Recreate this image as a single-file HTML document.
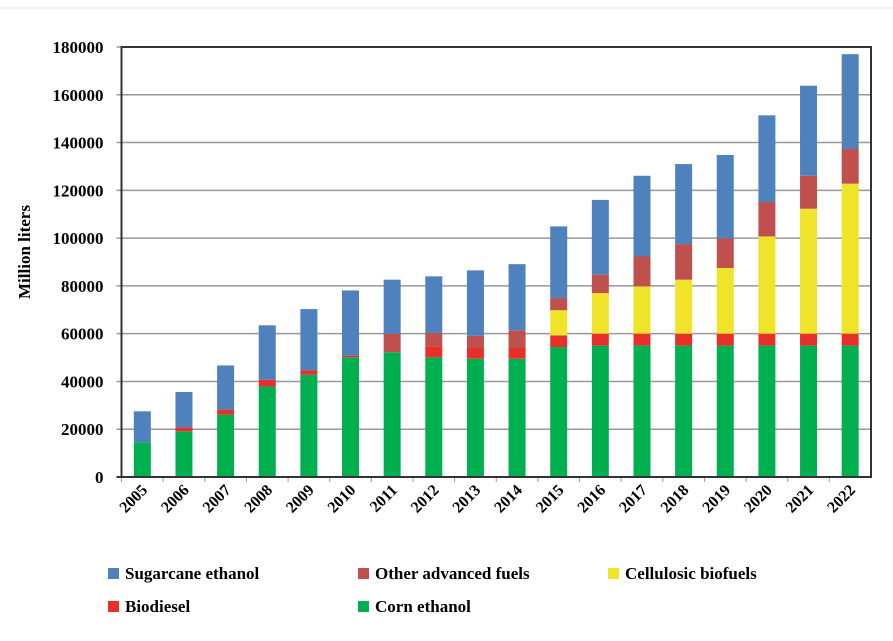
<!DOCTYPE html>
<html><head><meta charset="utf-8"><style>
body{margin:0;background:#fff;width:893px;height:636px;overflow:hidden;font-family:"Liberation Serif",serif;}
</style></head><body>
<svg id="chart" width="893" height="636" xmlns="http://www.w3.org/2000/svg" font-family="Liberation Serif, serif">
<line x1="0" y1="8" x2="893" y2="8" stroke="#e6e6e6" stroke-width="1"/>
<g id="grid"></g><g id="bars"></g><g id="axes"></g>
<text transform="translate(30,252) rotate(-90)" text-anchor="middle" font-weight="bold" font-size="17">Million liters</text>
<g id="legend"></g>
</svg>
<script>
const years=["2005","2006","2007","2008","2009","2010","2011","2012","2013","2014","2015","2016","2017","2018","2019","2020","2021","2022"];
const corn=[14500,19100,26100,37900,42800,50100,52200,50100,49500,49500,54400,55000,55000,55000,55000,55000,55000,55000];
const biodiesel=[0,1700,2100,2800,1800,700,0,4600,4500,4500,4900,5000,5000,5000,5000,5000,5000,5000];
const cellulosic=[0,0,0,0,0,0,0,0,0,0,10500,17000,19800,22600,27500,40700,52300,62800];
const otherAdv=[0,0,0,0,0,0,7800,5600,5100,7400,5100,7700,12500,14900,12400,14400,13800,14500];
const sugarcane=[13000,14800,18500,22800,25700,27300,22600,23700,27400,27700,30000,31300,33800,33500,34900,36300,37700,39700];
const yTicks=[0,20000,40000,60000,80000,100000,120000,140000,160000,180000];
const NS="http://www.w3.org/2000/svg";
const L=121.5,R=871,T=47,B=477,ymax=180000;
const y=v=>B-(v/ymax)*(B-T);
const step=(R-L)/years.length;
const xc=i=>L+(i+0.5)*step;
function mk(tag,at,parent){const e=document.createElementNS(NS,tag);for(const k in at)e.setAttribute(k,at[k]);document.getElementById(parent).appendChild(e);return e;}
yTicks.forEach(t=>{
  const g=mk('line',{x1:L-5,x2:R,y1:y(t),y2:y(t),stroke:t===0?'#333':'#999','stroke-width':t===0?2:1.5},'grid');
  
  
  const tx=mk('text',{x:L-18,y:y(t)+6,'text-anchor':'end','font-weight':'bold','font-size':17},'axes');
  tx.textContent=t;
  
  
});
const series=[["corn-ethanol",corn,"#00b050"],["biodiesel",biodiesel,"#e8302a"],["cellulosic-biofuels",cellulosic,"#f0e42a"],["other-advanced-fuels",otherAdv,"#c0504d"],["sugarcane-ethanol",sugarcane,"#4f81bd"]];
const bw=17;
years.forEach((yr,i)=>{
  let base=0;
  series.forEach(s=>{
    const v=s[1][i];
    if(v>0){
      const r=mk('rect',{x:xc(i)-bw/2,y:y(base+v),width:bw,height:y(base)-y(base+v),fill:s[2]},'bars');
      
      
    }
    base+=v;
  });
  const tk=mk('line',{x1:L+i*step,x2:L+i*step,y1:B,y2:B+5,stroke:'#999'},'axes');
  
  
  const tx=mk('text',{transform:`translate(${xc(i)+6},${B+14}) rotate(-45)`,'text-anchor':'end','font-weight':'bold','font-size':16},'axes');
  tx.textContent=yr;
  
  
});
mk('rect',{x:L,y:T,width:R-L,height:B-T,fill:'none',stroke:'#333','stroke-width':2},'axes');
const leg=[["Sugarcane ethanol","#4f81bd",108,578],["Other advanced fuels","#c0504d",358,578],["Cellulosic biofuels","#f0e42a",608,578],["Biodiesel","#e8302a",108,611],["Corn ethanol","#00b050",358,611]];
leg.forEach(l=>{
  const r=mk('rect',{x:l[2],y:l[3]-10,width:11,height:11,fill:l[1]},'legend');
  
  
  const t=mk('text',{x:l[2]+17,y:l[3]+1,'font-weight':'bold','font-size':17},'legend');
  t.textContent=l[0];
  
  
});
</script>
</body></html>
